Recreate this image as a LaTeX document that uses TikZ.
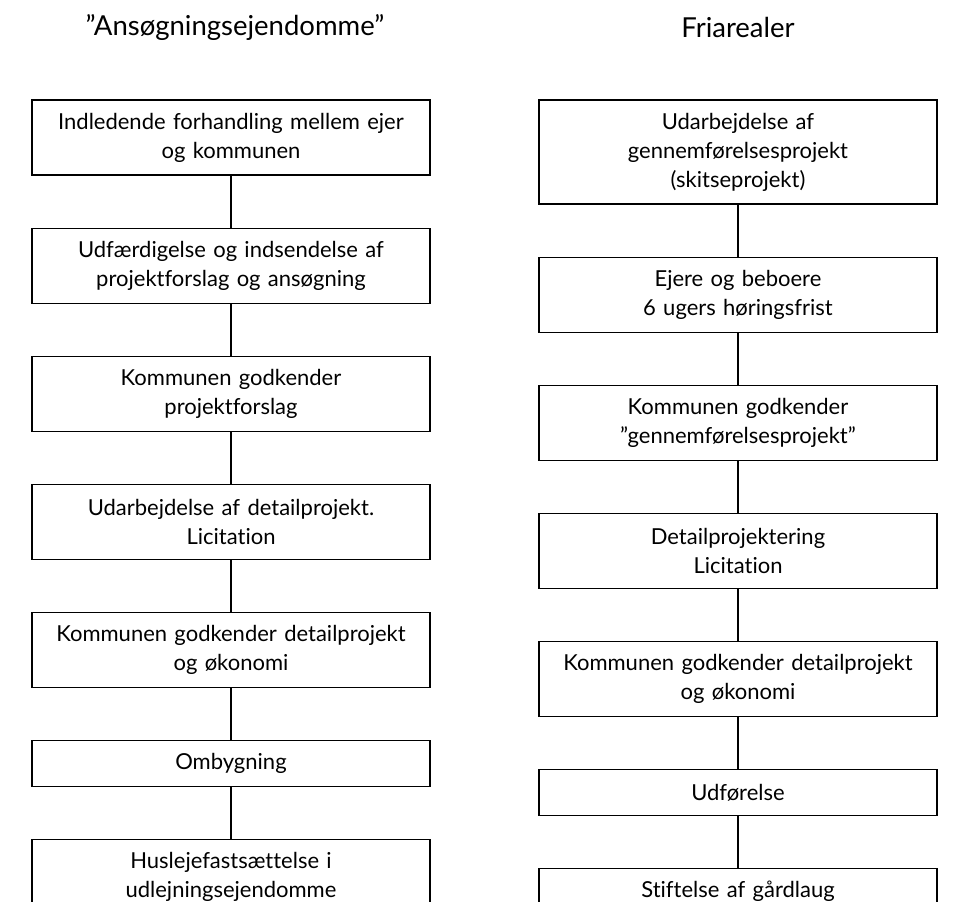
\documentclass[tikz,border=0pt]{standalone}
\usepackage{fontspec}
\setmainfont{Lato}[Ligatures=NoCommon]
\usetikzlibrary{positioning}

\begin{document}
\begin{tikzpicture}[x=1pt,y=-1pt,node distance=52pt,
    stage/.style={draw,line width=1.1pt,minimum width=398pt,minimum height=75pt,
      text width=390pt,align=center,inner sep=0pt,
      font=\fontsize{22}{29}\selectfont},
    short/.style={minimum height=46pt},
    tall/.style={minimum height=104pt},
    link/.style={line width=1.1pt},
    heading/.style={font=\fontsize{27.5}{30}\selectfont}]
\clip (0,0) rectangle (953,902);
% headings
\node[heading] (ansT) at (235,27) {”Ansøgningsejendomme”};
\node[heading] (friT) at (738,27) {Friarealer};
% left column
\node[stage] (ans1) at (231,137.5) {Indledende forhandling mellem ejer\\og kommunen};
\node[stage,below=of ans1] (ans2) {Udfærdigelse og indsendelse af\\projektforslag og ansøgning};
\node[stage,below=of ans2] (ans3) {Kommunen godkender\\projektforslag};
\node[stage,below=of ans3] (ans4) {Udarbejdelse af detailprojekt.\\Licitation};
\node[stage,below=of ans4] (ans5) {Kommunen godkender detailprojekt\\og økonomi};
\node[stage,short,below=of ans5] (ans6) {Ombygning};
\node[stage,below=of ans6] (ans7) {Huslejefastsættelse i\\udlejningsejendomme};
% right column
\node[stage,tall] (fri1) at (738,152) {Udarbejdelse af\\gennemførelsesprojekt\\(skitseprojekt)};
\node[stage,below=of fri1] (fri2) {Ejere og beboere\\6 ugers høringsfrist};
\node[stage,below=of fri2] (fri3) {Kommunen godkender\\”gennemførelsesprojekt”};
\node[stage,below=of fri3] (fri4) {Detailprojektering\\Licitation};
\node[stage,below=of fri4] (fri5) {Kommunen godkender detailprojekt\\og økonomi};
\node[stage,short,below=of fri5] (fri6) {Udførelse};
\node[stage,short,below=of fri6] (fri7) {Stiftelse af gårdlaug};
% connectors
\foreach \col in {ans,fri}{
  \foreach \i [count=\j from 2] in {1,...,6}{
    \draw[link] (\col\i.south) -- (\col\j.north);
  }
}
\end{tikzpicture}
\end{document}
